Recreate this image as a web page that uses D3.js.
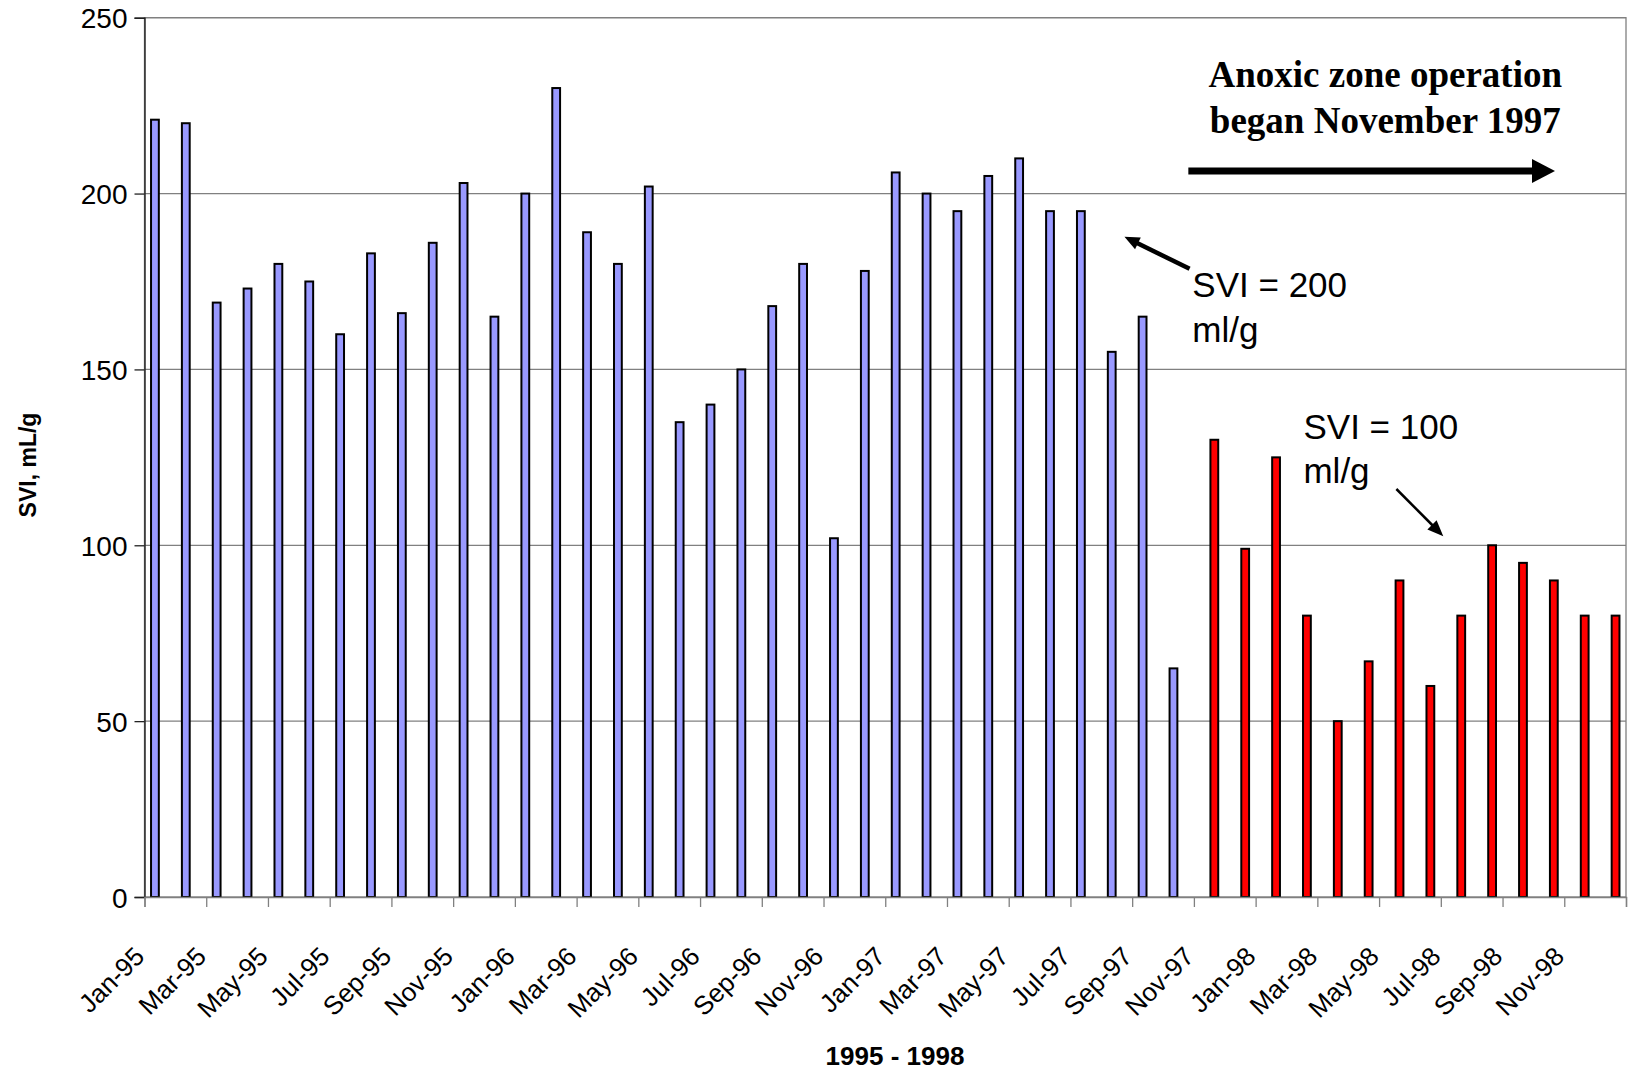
<!DOCTYPE html>
<html>
<head>
<meta charset="utf-8">
<script src="https://cdn.jsdelivr.net/npm/d3@7"></script>
<style>
  body { margin: 0; background: #fff; }
  svg { display: block; }
</style>
</head>
<body>
<div id="chart"></div>
<script>
// monthly SVI, 1995 - 1998
const months = [
  'Jan-95', 'Feb-95', 'Mar-95', 'Apr-95', 'May-95', 'Jun-95', 'Jul-95', 'Aug-95', 'Sep-95', 'Oct-95', 'Nov-95', 'Dec-95',
  'Jan-96', 'Feb-96', 'Mar-96', 'Apr-96', 'May-96', 'Jun-96', 'Jul-96', 'Aug-96', 'Sep-96', 'Oct-96', 'Nov-96', 'Dec-96',
  'Jan-97', 'Feb-97', 'Mar-97', 'Apr-97', 'May-97', 'Jun-97', 'Jul-97', 'Aug-97', 'Sep-97', 'Oct-97', 'Nov-97', 'Dec-97',
  'Jan-98', 'Feb-98', 'Mar-98', 'Apr-98', 'May-98', 'Jun-98', 'Jul-98', 'Aug-98', 'Sep-98', 'Oct-98', 'Nov-98', 'Dec-98'
];

// before anoxic zone (Jan-95 .. Oct-97)
const sviBefore = [
  221, 220, 169, 173, 180, 175, 160, 183, 166, 186, 203, 165,
  200, 230, 189, 180, 202, 135, 140, 150, 168, 180, 102, 178,
  206, 200, 195, 205, 210, 195, 195, 155, 165, 65
];

// after anoxic zone (Nov-97 .. Dec-98)
const sviAfter = [130, 99, 125, 80, 50, 67, 90, 60, 80, 100, 95, 90, 80, 80];

const yTicks = [0, 50, 100, 150, 200, 250];
const series = ['before', 'after'];

const rows = months.map((m, i) => ({
  month: m,
  before: i < sviBefore.length ? sviBefore[i] : null,
  after: i >= sviBefore.length ? sviAfter[i - sviBefore.length] : null
}));

const width = 1630, height = 1070;
const plot = { left: 144.5, right: 1626, top: 17.7, bottom: 897 };
const sans = "'Liberation Sans', Arial, sans-serif";
const grid = '#808080';

const svg = d3.select('#chart').append('svg')
  .attr('width', width)
  .attr('height', height)
  .style('font-family', sans);

const x = d3.scaleBand()
  .domain(months)
  .range([plot.left, plot.right])
  .paddingInner(0)
  .paddingOuter(0);

const xs = d3.scaleBand()
  .domain(series)
  .range([0, x.bandwidth()])
  .paddingInner(0.22)
  .paddingOuter(0.654);

// continuous position over the category axis, used for ticks and notes
const xPos = d3.scaleLinear().domain([0, months.length]).range([plot.left, plot.right]);

const y = d3.scaleLinear().domain([0, 250]).range([plot.bottom, plot.top]);

// gridlines
svg.append('g')
  .selectAll('line')
  .data(yTicks.filter(d => d > 0))
  .enter().append('line')
  .attr('x1', plot.left)
  .attr('x2', plot.right)
  .attr('y1', d => y(d))
  .attr('y2', d => y(d))
  .attr('stroke', grid)
  .attr('stroke-width', 1.3);

// plot border
svg.append('rect')
  .attr('x', plot.left)
  .attr('y', plot.top)
  .attr('width', plot.right - plot.left)
  .attr('height', plot.bottom - plot.top)
  .attr('fill', 'none')
  .attr('stroke', grid)
  .attr('stroke-width', 1.3);

// bars
const colors = { before: '#9999ff', after: '#ff0000' };
const groups = svg.append('g')
  .selectAll('g')
  .data(rows)
  .enter().append('g')
  .attr('transform', d => 'translate(' + x(d.month) + ',0)');

groups.selectAll('rect')
  .data(d => series.filter(s => d[s] !== null).map(s => ({ key: s, value: d[s] })))
  .enter().append('rect')
  .attr('x', d => xs(d.key))
  .attr('y', d => y(d.value))
  .attr('width', xs.bandwidth())
  .attr('height', d => y(0) - y(d.value))
  .attr('fill', d => colors[d.key])
  .attr('stroke', '#000')
  .attr('stroke-width', 2);

// y axis
const yAxis = svg.append('g')
  .attr('transform', 'translate(' + plot.left + ',0)')
  .call(d3.axisLeft(y).tickValues(yTicks).tickSize(10).tickPadding(7));
yAxis.select('.domain').attr('stroke', '#222').attr('stroke-width', 1.4);
yAxis.selectAll('.tick line').attr('stroke', '#222').attr('stroke-width', 1.3);
yAxis.selectAll('.tick text')
  .style('font-family', sans)
  .style('font-size', '28px')
  .attr('fill', '#000')
  .attr('dy', '0.36em');

// x axis: a tick every second month
const tickIdx = d3.range(0, months.length + 1, 2);
const xAxis = svg.append('g')
  .attr('transform', 'translate(0,' + plot.bottom + ')')
  .call(d3.axisBottom(xPos).tickValues(tickIdx).tickSize(10)
    .tickFormat(i => i < months.length ? months[i] : ''));
xAxis.select('.domain').attr('stroke', grid).attr('stroke-width', 1.4);
xAxis.selectAll('.tick line').attr('stroke', grid).attr('stroke-width', 1.3);
xAxis.selectAll('.tick text')
  .style('font-family', sans)
  .style('font-size', '26px')
  .attr('fill', '#000')
  .attr('text-anchor', 'end')
  .attr('y', null)
  .attr('dy', null)
  .attr('transform', 'translate(1,61) rotate(-45)');

// axis titles
svg.append('text')
  .attr('x', 895)
  .attr('y', 1065)
  .attr('text-anchor', 'middle')
  .style('font-size', '26px')
  .style('font-weight', 'bold')
  .text('1995 - 1998');

svg.append('text')
  .attr('transform', 'translate(36,465) rotate(-90)')
  .attr('text-anchor', 'middle')
  .style('font-size', '23px')
  .style('font-weight', 'bold')
  .text('SVI, mL/g');

// notes
function arrow(p0, p1, lw, headLen, headW) {
  const dx = p1[0] - p0[0], dy = p1[1] - p0[1];
  const len = Math.hypot(dx, dy);
  const ux = dx / len, uy = dy / len, nx = -uy, ny = ux;
  const bx = p1[0] - ux * headLen, by = p1[1] - uy * headLen;
  svg.append('line')
    .attr('x1', p0[0]).attr('y1', p0[1])
    .attr('x2', bx + ux).attr('y2', by + uy)
    .attr('stroke', '#000')
    .attr('stroke-width', lw);
  svg.append('polygon')
    .attr('points', [p1, [bx + nx * headW / 2, by + ny * headW / 2], [bx - nx * headW / 2, by - ny * headW / 2]]
      .map(p => p.join(',')).join(' '))
    .attr('fill', '#000');
}

const anoxic = svg.append('text')
  .attr('text-anchor', 'middle')
  .style('font-family', "'Liberation Serif', 'Times New Roman', serif")
  .style('font-weight', 'bold')
  .style('font-size', '37px');
anoxic.append('tspan').attr('x', xPos(40.2)).attr('y', y(230.3)).text('Anoxic zone operation');
anoxic.append('tspan').attr('x', xPos(40.2)).attr('y', y(217.2)).text('began November 1997');

arrow([xPos(33.82), y(206.4)], [xPos(45.7), y(206.4)], 7, 23, 24);

const note200 = svg.append('text').style('font-size', '35px');
note200.append('tspan').attr('x', xPos(33.95)).attr('y', y(170.6)).text('SVI = 200');
note200.append('tspan').attr('x', xPos(33.95)).attr('y', y(157.8)).text('ml/g');
arrow([xPos(33.86), y(178.6)], [xPos(31.75), y(187.7)], 4.5, 15, 13);

const note100 = svg.append('text').style('font-size', '35px');
note100.append('tspan').attr('x', xPos(37.55)).attr('y', y(130.2)).text('SVI = 100');
note100.append('tspan').attr('x', xPos(37.55)).attr('y', y(117.7)).text('ml/g');
arrow([xPos(40.56), y(116.0)], [xPos(42.08), y(102.6)], 2.5, 16, 13);
</script>
</body>
</html>
